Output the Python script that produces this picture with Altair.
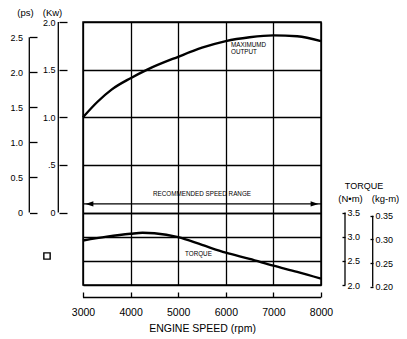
import altair as alt
import pandas as pd

# ---------------- data ----------------
power_rpm = [3000, 3300, 3600, 4000, 4350, 5000, 5500, 6000, 6500, 7000, 7500, 8000]
power_kw = [1.00, 1.16, 1.29, 1.41, 1.50, 1.635, 1.73, 1.80, 1.84, 1.86, 1.85, 1.80]

torque_rpm = [3000, 3500, 4000, 4250, 4500, 5000, 5500, 6000, 6500, 7000, 7500, 8000]
torque_nm = [2.92, 3.00, 3.06, 3.08, 3.07, 2.99, 2.83, 2.67, 2.54, 2.40, 2.27, 2.13]

rpm_ticks = [3000, 4000, 5000, 6000, 7000, 8000]
kw_ticks = [0, 0.5, 1.0, 1.5, 2.0]
kw_labels = ["0", ".5", "1.0", "1.5", "2.0"]
ps_ticks = [0, 0.5, 1.0, 1.5, 2.0, 2.5]
ps_labels = ["0", "0.5", "1.0", "1.5", "2.0", "2.5"]
nm_ticks = [2.0, 2.5, 3.0, 3.5]
nm_labels = ["2.0", "2.5", "3.0", "3.5"]
kgm_ticks = [0.20, 0.25, 0.30, 0.35]
kgm_labels = ["0.20", "0.25", "0.30", "0.35"]

recommended_rpm = [3000, 8000]
recommended_kw = 0.09

# ---------------- layout / style ----------------
FONT = "Liberation Sans"
INK = "black"
W, H = 238, 263
KW0 = 190.5                      # pixel row of 0 Kw (= 3.5 N·m)
px_per_kw = KW0 / 2.0
px_per_nm = (H - KW0) / 1.5
KW_PER_PS = 0.7355
NM_PER_KGM = 9.80665


def nm_px(v):
    return H - (v - 2.0) * px_per_nm


def label_expr(ticks, labels):
    expr = "''"
    for t, l in reversed(list(zip(ticks, labels))):
        expr = f"abs(datum.value - {t}) < 1e-6 ? '{l}' : ({expr})"
    return expr


x_scale = alt.Scale(domain=[rpm_ticks[0], rpm_ticks[-1]], nice=False, zero=False)
# Kw scale spans the whole plot height (its lower part is the torque panel)
kw_scale = alt.Scale(domain=[kw_ticks[-1] - H / px_per_kw, kw_ticks[-1]], range=[H, 0],
                     nice=False, zero=False)
ps_scale = alt.Scale(domain=[0, 2.5], range=[KW0, KW0 - 2.5 * KW_PER_PS * px_per_kw],
                     nice=False, zero=False)
nm_scale = alt.Scale(domain=[2.0, 3.5], range=[H, KW0], nice=False, zero=False)
kgm_scale = alt.Scale(domain=[0.20, 0.35],
                      range=[nm_px(0.20 * NM_PER_KGM), nm_px(0.35 * NM_PER_KGM)],
                      nice=False, zero=False)

common_axis = dict(domain=False, tickColor=INK, tickWidth=1.3, labelColor=INK,
                   labelFont=FONT, titleFont=FONT, titleColor=INK,
                   titleFontWeight="normal", labelOverlap=False, labelFlush=False)

x_axis = alt.Axis(values=rpm_ticks, orient="bottom", offset=7, tickSize=5,
                  grid=True, gridColor=INK, gridWidth=1.3, gridOpacity=1,
                  labelPadding=10, labelFontSize=10.5, format="d",
                  title="ENGINE SPEED (rpm)", titleFontSize=10.5, titlePadding=6,
                  **common_axis)
kw_axis = alt.Axis(values=kw_ticks, labelExpr=label_expr(kw_ticks, kw_labels),
                   orient="left", offset=16, tickSize=8, labelPadding=4,
                   labelFontSize=9, grid=True, gridColor=INK, gridWidth=1.3,
                   gridOpacity=1, title="(Kw)", titleAngle=0, titleX=-15,
                   titleY=-10, titleAlign="center", titleBaseline="middle",
                   titleFontSize=9.5, **common_axis)
ps_axis = alt.Axis(values=ps_ticks, labelExpr=label_expr(ps_ticks, ps_labels),
                   orient="left", offset=46, tickSize=7.5, labelPadding=7,
                   labelFontSize=9, grid=False, title="(ps)", titleAngle=0,
                   titleX=-12, titleY=-10, titleAlign="center",
                   titleBaseline="middle", titleFontSize=9.5, **common_axis)
nm_axis = alt.Axis(values=nm_ticks, labelExpr=label_expr(nm_ticks, nm_labels),
                   orient="right", offset=21, tickSize=3, labelPadding=2,
                   labelFontSize=9, grid=True, gridColor=INK, gridWidth=1.3,
                   gridOpacity=1, title="(N•m)", titleAngle=0, titleX=8,
                   titleY=176, titleAlign="center", titleBaseline="middle",
                   titleFontSize=9.5, **common_axis)
kgm_axis = alt.Axis(values=kgm_ticks, labelExpr=label_expr(kgm_ticks, kgm_labels),
                    orient="right", offset=49, tickSize=3, labelPadding=2,
                    labelFontSize=9, grid=False, title="(kg-m)", titleAngle=0,
                    titleX=15, titleY=176, titleAlign="center",
                    titleBaseline="middle", titleFontSize=9.5, **common_axis)


def X(field):
    # every layer carries the same shared x axis definition
    return alt.X(field, type="quantitative", scale=x_scale, axis=x_axis)


one = pd.DataFrame({"a": [0]})

power_df = pd.DataFrame({"rpm": power_rpm, "kw": power_kw})
torque_df = pd.DataFrame({"rpm": torque_rpm, "nm": torque_nm})

power = alt.Chart(power_df).mark_line(color=INK, strokeWidth=2.4,
                                       interpolate="monotone").encode(
    x=X("rpm"), y=alt.Y("kw:Q", scale=kw_scale, axis=kw_axis))

torque = alt.Chart(torque_df).mark_line(color=INK, strokeWidth=2.4,
                                         interpolate="monotone").encode(
    x=X("rpm"), y=alt.Y("nm:Q", scale=nm_scale, axis=nm_axis))


def vline(lo, hi, xpix, scale, axis):
    return alt.Chart(pd.DataFrame({"lo": [lo], "hi": [hi]})).mark_rule(
        color=INK, strokeWidth=1.3).encode(
        x=alt.value(xpix),
        y=alt.Y("lo:Q", scale=scale, axis=axis), y2="hi:Q")


ps_line = vline(ps_ticks[0], ps_ticks[-1], -53.7, ps_scale, ps_axis)
kw_line = vline(kw_ticks[0], kw_ticks[-1], -24.7, kw_scale, None)
nm_line = vline(nm_ticks[0], nm_ticks[-1], 262, nm_scale, None)
kgm_line = vline(kgm_ticks[0], kgm_ticks[-1], 289.7, kgm_scale, kgm_axis)

x_base = alt.Chart(pd.DataFrame({"lo": [rpm_ticks[0]], "hi": [rpm_ticks[-1]]})).mark_rule(
    color=INK, strokeWidth=1.3).encode(x=X("lo"), x2="hi:Q", y=alt.value(275.5))

shaft = alt.Chart(pd.DataFrame({"lo": [recommended_rpm[0]], "hi": [recommended_rpm[1]],
                                "kw": [recommended_kw]})).mark_rule(
    color=INK, strokeWidth=1.3).encode(
    x=X("lo"), x2="hi:Q", y=alt.Y("kw:Q", scale=kw_scale, axis=None))


def head(rpm, path):
    return alt.Chart(pd.DataFrame({"rpm": [rpm], "kw": [recommended_kw]})).mark_point(
        shape=path, filled=True, size=64, color=INK, opacity=1, strokeWidth=0).encode(
        x=X("rpm"), y=alt.Y("kw:Q", scale=kw_scale, axis=None))


head_l = head(recommended_rpm[0], "M0.6,0L2.6,-0.65L2.6,0.65Z")
head_r = head(recommended_rpm[1], "M-0.6,0L-2.6,-0.65L-2.6,0.65Z")


def note(text, rpm, val, scale, align="left", size=6.3):
    return alt.Chart(pd.DataFrame({"rpm": [rpm], "v": [val], "t": [text]})).mark_text(
        align=align, baseline="middle", font=FONT, fontSize=size, color=INK).encode(
        x=X("rpm"), y=alt.Y("v:Q", scale=scale, axis=None), text="t:N")


rec_text = note("RECOMMENDED SPEED RANGE", 5500, 0.194, kw_scale, align="center")
max1 = note("MAXIMUMD", 6110, 1.76, kw_scale)
max2 = note("OUTPUT", 6110, 1.69, kw_scale)
tq_text = note("TORQUE", 5143, 2.64, nm_scale)

tq_header = alt.Chart(one).mark_text(font=FONT, fontSize=9, color=INK,
                                      align="center", baseline="middle").encode(
    x=alt.value(281), y=alt.value(163.5), text=alt.value("TORQUE"))

square = alt.Chart(one).mark_point(shape="square", filled=False, size=40,
                                   strokeWidth=1.4, color=INK, opacity=1).encode(
    x=alt.value(-36), y=alt.value(234))

chart = alt.layer(
    power, torque, ps_line, kw_line, nm_line, kgm_line, x_base, shaft,
    head_l, head_r, rec_text, max1, max2, tq_text, tq_header, square
).resolve_scale(y="independent").properties(
    width=W, height=H,
    autosize=alt.AutoSizeParams(type="none"),
    padding={"left": 75, "top": 14, "right": 78, "bottom": 51},
).configure(font=FONT, background="white").configure_view(stroke=INK, strokeWidth=1.5)

chart.save("out.html", embed_options={"renderer": "svg", "actions": False})
